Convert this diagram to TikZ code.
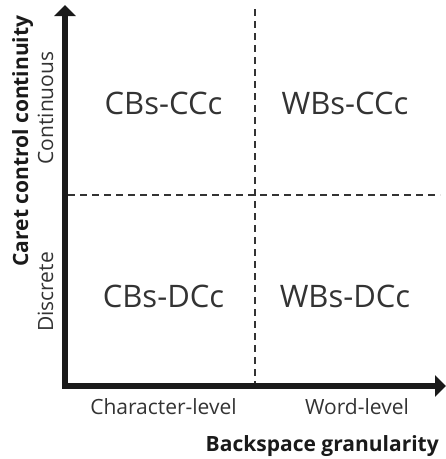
\documentclass[tikz,border=0pt]{standalone}
\usepackage{fontspec}
\setmainfont{Open Sans}
\usetikzlibrary{arrows.meta}
\definecolor{txt}{HTML}{333333}
\definecolor{axis}{HTML}{1A1A1A}
\tikzset{
  quad/.style={anchor=base, inner sep=0pt, text=txt, font=\fontsize{31}{36}\selectfont},
  tick/.style={anchor=base, inner sep=0pt, text=txt, font=\fontsize{21}{25}\selectfont},
  axtitle/.style={anchor=base, inner sep=0pt, text=axis, font=\fontsize{21}{25}\selectfont\bfseries},
  axisline/.style={draw=axis, line width=6.5pt, line join=miter,
    {Triangle[width=21pt,length=11pt]}-{Triangle[width=21pt,length=11pt]}},
  divider/.style={draw=txt, line width=1.6pt, dash pattern=on 7pt off 5pt}
}
\begin{document}
\begin{tikzpicture}[x=1pt,y=-1pt]
\useasboundingbox (0,0) rectangle (446,459);
% axes
\coordinate (ytip) at (65,5);
\coordinate (orig) at (65,386);
\coordinate (xtip) at (446,386);
\draw[axisline] (ytip) -- (orig) -- (xtip);
% dividers
\coordinate (vtop) at (255,9);
\coordinate (vbot) at (255,383);
\coordinate (hl) at (68,195);
\coordinate (hr) at (440,195);
\draw[divider] (vtop) -- (vbot);
\draw[divider] (hl) -- (hr);
% quadrant labels
\node[quad] (q1) at (163.5,114) {CBs-CCc};
\node[quad] (q2) at (345,114) {WBs-CCc};
\node[quad] (q3) at (163.5,307) {CBs-DCc};
\node[quad] (q4) at (345,307) {WBs-DCc};
% tick labels
\node[tick] (xl1) at (163.5,414) {Character-level};
\node[tick] (xl2) at (357,414) {Word-level};
\node[tick, rotate=90] (yl1) at (53,108) {Continuous};
\node[tick, rotate=90] (yl2) at (53,292) {Discrete};
% axis titles
\node[axtitle, anchor=base east] (xt) at (439,451) {Backspace granularity};
\node[axtitle, rotate=90] (yt) at (28,141) {Caret control continuity};
\end{tikzpicture}
\end{document}
